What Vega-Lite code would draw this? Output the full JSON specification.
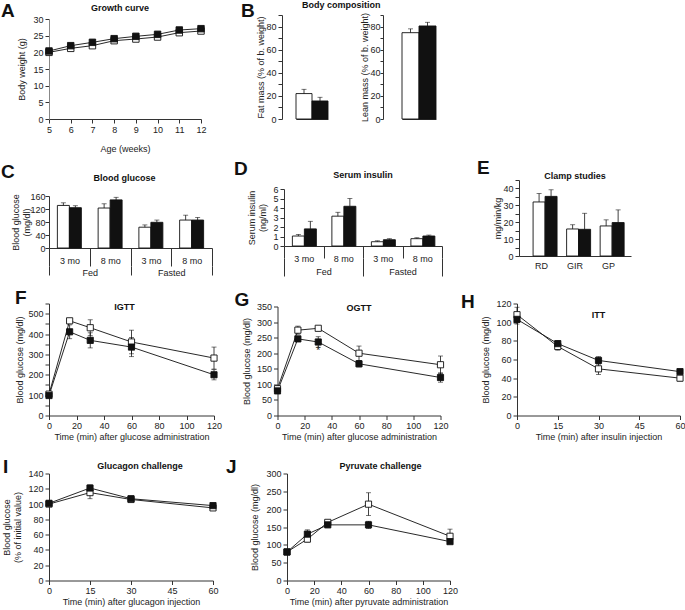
{
"$schema":"https://vega.github.io/schema/vega-lite/v6.json",
"padding":{"left":0,"top":1,"right":1,"bottom":0},
"config":{"font":"Liberation Sans","view":{"stroke":null},
 "axis":{"grid":false,"labelOverlap":false,"labelFlush":false,"labelFontSize":9,"titleFontSize":9,"titleFontWeight":"normal","labelColor":"#222","titleColor":"#222","domainColor":"#333","tickColor":"#333","tickSize":4,"labelPadding":2,"titlePadding":4,"labelAngle":0},
 "title":{"fontSize":9,"fontWeight":"bold","color":"#111","frame":"group","offset":4}},
"datasets":{
"growth":[{"age":5,"g":"W","w":20.0},{"age":5,"g":"K","w":20.4},{"age":6,"g":"W","w":21.2},{"age":6,"g":"K","w":22.0},{"age":7,"g":"W","w":22.0},{"age":7,"g":"K","w":23.0},{"age":8,"g":"W","w":23.5},{"age":8,"g":"K","w":24.1},{"age":9,"g":"W","w":24.0},{"age":9,"g":"K","w":24.8},{"age":10,"g":"W","w":24.6},{"age":10,"g":"K","w":25.4},{"age":11,"g":"W","w":25.9},{"age":11,"g":"K","w":26.7},{"age":12,"g":"W","w":26.4},{"age":12,"g":"K","w":27.1}],
"fat":[{"g":"W","v":22,"hi":25.7},{"g":"K","v":15.6,"hi":18.8}],
"lean":[{"g":"W","v":74.7,"hi":78},{"g":"K","v":80.5,"hi":83.7}],
"glu":[{"grp":"Fed|3 mo","g":"W","v":131,"hi":139},{"grp":"Fed|3 mo","g":"K","v":124,"hi":130},{"grp":"Fed|8 mo","g":"W","v":123,"hi":136},{"grp":"Fed|8 mo","g":"K","v":148,"hi":156},{"grp":"Fasted|3 mo","g":"W","v":64,"hi":71},{"grp":"Fasted|3 mo","g":"K","v":79,"hi":86},{"grp":"Fasted|8 mo","g":"W","v":86,"hi":101},{"grp":"Fasted|8 mo","g":"K","v":86,"hi":94}],
"ins":[{"grp":"Fed|3 mo","g":"W","v":1.05,"hi":1.22},{"grp":"Fed|3 mo","g":"K","v":1.8,"hi":2.6},{"grp":"Fed|8 mo","g":"W","v":3.14,"hi":3.55},{"grp":"Fed|8 mo","g":"K","v":4.18,"hi":5.0},{"grp":"Fasted|3 mo","g":"W","v":0.45,"hi":0.55},{"grp":"Fasted|3 mo","g":"K","v":0.66,"hi":0.77},{"grp":"Fasted|8 mo","g":"W","v":0.77,"hi":0.87},{"grp":"Fasted|8 mo","g":"K","v":1.05,"hi":1.15}],
"cond":[{"c":"Fed"},{"c":"Fasted"}],
"clamp":[{"m":"RD","g":"W","v":32,"hi":37},{"m":"RD","g":"K","v":35.3,"hi":39.2},{"m":"GIR","g":"W","v":16,"hi":18.5},{"m":"GIR","g":"K","v":15.8,"hi":25.3},{"m":"GP","g":"W","v":17.8,"hi":21.4},{"m":"GP","g":"K","v":19.8,"hi":27.3}],
"igtt":[{"t":0,"g":"W","v":105,"lo":97,"hi":113},{"t":15,"g":"W","v":465,"lo":455,"hi":475},{"t":30,"g":"W","v":431,"lo":392,"hi":470},{"t":60,"g":"W","v":361,"lo":303,"hi":419},{"t":120,"g":"W","v":282,"lo":228,"hi":336},{"t":0,"g":"K","v":98,"lo":90,"hi":106},{"t":15,"g":"K","v":411,"lo":377,"hi":445},{"t":30,"g":"K","v":369,"lo":332,"hi":406},{"t":60,"g":"K","v":336,"lo":289,"hi":383},{"t":120,"g":"K","v":200,"lo":175,"hi":225}],
"ogtt":[{"t":0,"g":"W","v":86,"lo":78,"hi":94},{"t":15,"g":"W","v":274,"lo":261,"hi":287},{"t":30,"g":"W","v":280,"lo":275,"hi":285},{"t":60,"g":"W","v":200,"lo":177,"hi":223},{"t":120,"g":"W","v":163,"lo":135,"hi":191},{"t":0,"g":"K","v":79,"lo":71,"hi":87},{"t":15,"g":"K","v":246,"lo":238,"hi":254},{"t":30,"g":"K","v":236,"lo":219,"hi":253},{"t":60,"g":"K","v":166,"lo":156,"hi":176},{"t":120,"g":"K","v":122,"lo":107,"hi":137}],
"star":[{"t":30,"v":207,"s":"*"}],
"itt":[{"t":0,"g":"W","v":108,"lo":100,"hi":116},{"t":15,"g":"W","v":74,"lo":70,"hi":78},{"t":30,"g":"W","v":50,"lo":44,"hi":56},{"t":60,"g":"W","v":40,"lo":37,"hi":43},{"t":0,"g":"K","v":103,"lo":98,"hi":108},{"t":15,"g":"K","v":77,"lo":74,"hi":80},{"t":30,"g":"K","v":59,"lo":55,"hi":63},{"t":60,"g":"K","v":47,"lo":45,"hi":49}],
"glucagon":[{"t":0,"g":"W","v":100,"lo":97,"hi":103},{"t":15,"g":"W","v":115,"lo":107,"hi":123},{"t":30,"g":"W","v":106,"lo":103,"hi":109},{"t":60,"g":"W","v":95,"lo":92,"hi":98},{"t":0,"g":"K","v":101,"lo":98,"hi":104},{"t":15,"g":"K","v":121,"lo":117,"hi":125},{"t":30,"g":"K","v":107,"lo":104,"hi":110},{"t":60,"g":"K","v":98,"lo":96,"hi":100}],
"pyr":[{"t":0,"g":"W","v":80,"lo":75,"hi":85},{"t":15,"g":"W","v":116,"lo":108,"hi":124},{"t":30,"g":"W","v":163,"lo":158,"hi":168},{"t":60,"g":"W","v":214,"lo":182,"hi":246},{"t":120,"g":"W","v":124,"lo":104,"hi":144},{"t":0,"g":"K","v":80,"lo":75,"hi":85},{"t":15,"g":"K","v":130,"lo":118,"hi":142},{"t":30,"g":"K","v":156,"lo":151,"hi":161},{"t":60,"g":"K","v":156,"lo":146,"hi":166},{"t":120,"g":"K","v":109,"lo":104,"hi":114}]
},
"columns":1,"align":"none","spacing":6,
"concat":[
{"columns":2,"align":"none","spacing":33,"concat":[
 {"title":{"text":"A","anchor":"start","frame":"bounds","fontSize":19,"offset":-16.5,"dx":-17},
  "vconcat":[{"width":152,"height":104,"title":{"text":"Growth curve","offset":2,"dx":-5},"data":{"name":"growth"},
   "encoding":{"x":{"field":"age","type":"quantitative","scale":{"domain":[5,12],"nice":false},"axis":{"values":[5,6,7,8,9,10,11,12],"labelOverlap":false,"labelFlush":false,"title":"Age (weeks)","titlePadding":10}},
     "y":{"field":"w","type":"quantitative","scale":{"domain":[0,30],"nice":false,"rangeMax":4},"axis":{"values":[0,5,10,15,20,25,30],"labelOverlap":false,"title":"Body weight (g)","titlePadding":6,"domainColor":"#888"}}},
   "layer":[
    {"mark":{"type":"line","color":"#111","strokeWidth":0.9},"encoding":{"detail":{"field":"g"}}},
    {"mark":{"type":"point","shape":"square","filled":true,"size":42,"stroke":"#111","strokeWidth":0.9,"opacity":1},"encoding":{"fill":{"field":"g","type":"nominal","scale":{"domain":["W","K"],"range":["#ffffff","#111111"]},"legend":null}}}
   ]}]},
 {"title":{"text":"B","anchor":"start","frame":"bounds","fontSize":19,"offset":-19.5,"dx":-16},
  "vconcat":[{"title":{"text":"Body composition","offset":1,"dx":20},"spacing":28,"hconcat":[
   {"width":50,"height":104,"data":{"name":"fat"},
    "encoding":{"x":{"field":"g","type":"nominal","sort":["W","K"],"scale":{"domain":["W","K"],"range":[14,46],"paddingInner":0,"paddingOuter":0},"axis":{"labels":false,"ticks":false,"title":null}},
     "y":{"field":"v","type":"quantitative","scale":{"domain":[0,90],"nice":false},"axis":{"values":[0,10,20,30,40,50,60,70,80,90],"labelOverlap":false,"labelExpr":"datum.value % 20 == 0 ? datum.label : ''","title":"Fat mass (% of b. weight)","titlePadding":0}}},
    "layer":[
     {"mark":{"type":"bar","stroke":"#111","strokeWidth":0.9},"encoding":{"fill":{"field":"g","type":"nominal","scale":{"domain":["W","K"],"range":["#ffffff","#111111"]},"legend":null}}},
     {"mark":{"type":"rule","color":"#111","strokeWidth":0.8},"encoding":{"y2":{"field":"hi"}}},
     {"mark":{"type":"tick","orient":"horizontal","size":5,"thickness":0.8,"color":"#111"},"encoding":{"y":{"field":"hi","type":"quantitative","scale":{"domain":[0,90],"nice":false},"axis":{"values":[0,10,20,30,40,50,60,70,80,90],"labelOverlap":false,"labelExpr":"datum.value % 20 == 0 ? datum.label : ''","title":"Fat mass (% of b. weight)","titlePadding":0}}}}
    ]},
   {"width":58,"height":104,"data":{"name":"lean"},
    "encoding":{"x":{"field":"g","type":"nominal","sort":["W","K"],"scale":{"domain":["W","K"],"range":[19,53],"paddingInner":0,"paddingOuter":0},"axis":{"labels":false,"ticks":false,"title":null}},
     "y":{"field":"v","type":"quantitative","scale":{"domain":[0,90],"nice":false},"axis":{"values":[0,10,20,30,40,50,60,70,80,90],"labelOverlap":false,"labelExpr":"datum.value % 20 == 0 ? datum.label : ''","title":"Lean mass (% of b. weight)","titlePadding":0,"labelPadding":0,"tickSize":3}}},
    "layer":[
     {"mark":{"type":"bar","stroke":"#111","strokeWidth":0.9},"encoding":{"fill":{"field":"g","type":"nominal","scale":{"domain":["W","K"],"range":["#ffffff","#111111"]},"legend":null}}},
     {"mark":{"type":"rule","color":"#111","strokeWidth":0.8},"encoding":{"y2":{"field":"hi"}}},
     {"mark":{"type":"tick","orient":"horizontal","size":5,"thickness":0.8,"color":"#111"},"encoding":{"y":{"field":"hi","type":"quantitative","scale":{"domain":[0,90],"nice":false},"axis":{"values":[0,10,20,30,40,50,60,70,80,90],"labelOverlap":false,"labelExpr":"datum.value % 20 == 0 ? datum.label : ''","title":"Lean mass (% of b. weight)","titlePadding":0,"labelPadding":0,"tickSize":3}}}}
    ]}
  ]}]}
]},
{"columns":1,"align":"none","spacing":10.5,"concat":[
{"columns":2,"align":"none","spacing":20,"concat":[
 {"title":{"text":"C","anchor":"start","frame":"bounds","fontSize":19,"offset":-8.5,"dx":-11},
  "vconcat":[{"width":163,"height":68,"title":{"text":"Blood glucose","offset":-2.5,"dx":-6},
   "layer":[
    {"data":{"name":"glu"},
     "encoding":{"x":{"field":"grp","type":"nominal","sort":["Fed|3 mo","Fed|8 mo","Fasted|3 mo","Fasted|8 mo"],"scale":{"paddingInner":0,"paddingOuter":0},"axis":{"orient":"bottom","title":null,"labelExpr":"split(datum.label,'|')[1]","tickBand":"extent","tickSize":18,"labelPadding":-9.5}},
      "xOffset":{"field":"g","type":"nominal","sort":["W","K"],"scale":{"paddingInner":0,"paddingOuter":0.7}},
      "y":{"field":"v","type":"quantitative","scale":{"domain":[0,160],"nice":false,"rangeMax":16},"axis":{"values":[0,40,80,120,160],"labelOverlap":false,"title":["Blood glucose","(mg/dl)"],"titlePadding":-2,"labelPadding":0}}},
     "layer":[
      {"mark":{"type":"bar","stroke":"#111","strokeWidth":0.9},"encoding":{"fill":{"field":"g","type":"nominal","scale":{"domain":["W","K"],"range":["#ffffff","#111111"]},"legend":null}}},
      {"mark":{"type":"rule","color":"#111","strokeWidth":0.8},"encoding":{"y2":{"field":"hi"}}},
      {"mark":{"type":"tick","orient":"horizontal","size":5,"thickness":0.8,"color":"#111"},"encoding":{"y":{"field":"hi","type":"quantitative","scale":{"domain":[0,160],"nice":false,"rangeMax":16},"axis":{"values":[0,40,80,120,160],"labelOverlap":false,"title":["Blood glucose","(mg/dl)"],"titlePadding":-2,"labelPadding":0}}}}
     ]},
    {"data":{"name":"cond"},"mark":{"type":"bar","opacity":0},
     "encoding":{"x":{"field":"c","type":"nominal","sort":["Fed","Fasted"],"scale":{"paddingInner":0,"paddingOuter":0},"axis":{"orient":"bottom","offset":18,"title":null,"domain":false,"tickBand":"extent","tickSize":9,"labelPadding":-6.5}},
      "y":{"datum":0,"type":"quantitative","scale":{"domain":[0,160],"nice":false,"rangeMax":16},"axis":{"values":[0,40,80,120,160],"labelOverlap":false,"title":["Blood glucose","(mg/dl)"],"titlePadding":-2,"labelPadding":0}}}}
   ],
   "resolve":{"scale":{"x":"independent"},"axis":{"x":"independent"}}}]},
 {"columns":2,"align":"none","spacing":33,"concat":[
 {"title":{"text":"D","anchor":"start","frame":"bounds","fontSize":19,"offset":-8.5,"dx":-14},
  "vconcat":[{"width":158,"height":66,"title":{"text":"Serum insulin","offset":0.5},
   "layer":[
    {"data":{"name":"ins"},
     "encoding":{"x":{"field":"grp","type":"nominal","sort":["Fed|3 mo","Fed|8 mo","Fasted|3 mo","Fasted|8 mo"],"scale":{"paddingInner":0,"paddingOuter":0},"axis":{"orient":"bottom","title":null,"labelExpr":"split(datum.label,'|')[1]","tickBand":"extent","tickSize":12,"labelPadding":-3.5}},
      "xOffset":{"field":"g","type":"nominal","sort":["W","K"],"scale":{"paddingInner":0,"paddingOuter":0.7}},
      "y":{"field":"v","type":"quantitative","scale":{"domain":[0,6],"nice":false,"rangeMax":9},"axis":{"values":[0,1,2,3,4,5,6],"labelOverlap":false,"title":["Serum insulin","(ng/ml)"],"titlePadding":5}}},
     "layer":[
      {"mark":{"type":"bar","stroke":"#111","strokeWidth":0.9},"encoding":{"fill":{"field":"g","type":"nominal","scale":{"domain":["W","K"],"range":["#ffffff","#111111"]},"legend":null}}},
      {"mark":{"type":"rule","color":"#111","strokeWidth":0.8},"encoding":{"y2":{"field":"hi"}}},
      {"mark":{"type":"tick","orient":"horizontal","size":5,"thickness":0.8,"color":"#111"},"encoding":{"y":{"field":"hi","type":"quantitative","scale":{"domain":[0,6],"nice":false,"rangeMax":9},"axis":{"values":[0,1,2,3,4,5,6],"labelOverlap":false,"title":["Serum insulin","(ng/ml)"],"titlePadding":5}}}}
     ]},
    {"data":{"name":"cond"},"mark":{"type":"bar","opacity":0},
     "encoding":{"x":{"field":"c","type":"nominal","sort":["Fed","Fasted"],"scale":{"paddingInner":0,"paddingOuter":0},"axis":{"orient":"bottom","offset":12,"title":null,"domain":false,"tickBand":"extent","tickSize":18,"labelPadding":-8.5}},
      "y":{"datum":0,"type":"quantitative","scale":{"domain":[0,6],"nice":false,"rangeMax":9},"axis":{"values":[0,1,2,3,4,5,6],"labelOverlap":false,"title":["Serum insulin","(ng/ml)"],"titlePadding":5}}}}
   ],
   "resolve":{"scale":{"x":"independent"},"axis":{"x":"independent"}}}]},
 {"title":{"text":"E","anchor":"start","frame":"bounds","fontSize":19,"offset":-6.5,"dx":-17},
  "vconcat":[{"width":112,"height":76,"title":{"text":"Clamp studies","offset":-4.5},"data":{"name":"clamp"},
   "encoding":{"x":{"field":"m","type":"nominal","sort":["RD","GIR","GP"],"scale":{"paddingInner":0,"paddingOuter":0.17},"axis":{"title":null,"ticks":false,"labelPadding":5}},
     "xOffset":{"field":"g","type":"nominal","sort":["W","K"],"scale":{"paddingInner":0,"paddingOuter":0.4}},
     "y":{"field":"v","type":"quantitative","scale":{"domain":[0,45],"nice":false},"axis":{"values":[0,5,10,15,20,25,30,35,40,45],"labelOverlap":false,"labelExpr":"datum.value % 10 == 0 ? datum.label : ''","title":"mg/min/kg","titlePadding":0}}},
   "layer":[
    {"mark":{"type":"bar","stroke":"#111","strokeWidth":0.9},"encoding":{"fill":{"field":"g","type":"nominal","scale":{"domain":["W","K"],"range":["#ffffff","#111111"]},"legend":null}}},
    {"mark":{"type":"rule","color":"#111","strokeWidth":0.8},"encoding":{"y2":{"field":"hi"}}},
    {"mark":{"type":"tick","orient":"horizontal","size":5,"thickness":0.8,"color":"#111"},"encoding":{"y":{"field":"hi","type":"quantitative","scale":{"domain":[0,45],"nice":false},"axis":{"values":[0,5,10,15,20,25,30,35,40,45],"labelOverlap":false,"labelExpr":"datum.value % 10 == 0 ? datum.label : ''","title":"mg/min/kg","titlePadding":0}}}}
   ]}]}
 ]}
]},
{"columns":1,"align":"none","spacing":16,"concat":[
{"columns":3,"align":"none","spacing":11.5,"concat":[
 {"title":{"text":"F","anchor":"start","frame":"bounds","fontSize":19,"offset":-8.5,"dx":-1},
  "vconcat":[{"width":165,"height":112,"title":{"text":"IGTT","offset":-12,"dx":-7},"data":{"name":"igtt"},
   "encoding":{"x":{"field":"t","type":"quantitative","scale":{"domain":[0,120],"nice":false},"axis":{"values":[0,20,40,60,80,100,120],"labelOverlap":false,"labelFlush":false,"title":"Time (min) after glucose administration","titlePadding":2}},
     "y":{"field":"v","type":"quantitative","scale":{"domain":[0,550],"nice":false},"axis":{"values":[0,50,100,150,200,250,300,350,400,450,500,550],"labelOverlap":false,"labelExpr":"datum.value % 100 == 0 ? datum.label : ''","title":"Blood glucose (mg/dl)","titlePadding":3}}},
   "layer":[
    {"mark":{"type":"rule","color":"#111","strokeWidth":0.8},"encoding":{"y":{"field":"lo","type":"quantitative","scale":{"domain":[0,550],"nice":false},"axis":{"values":[0,50,100,150,200,250,300,350,400,450,500,550],"labelOverlap":false,"labelExpr":"datum.value % 100 == 0 ? datum.label : ''","title":"Blood glucose (mg/dl)","titlePadding":3}},"y2":{"field":"hi"}}},
    {"mark":{"type":"tick","orient":"horizontal","size":5,"thickness":0.8,"color":"#111"},"encoding":{"y":{"field":"hi","type":"quantitative","scale":{"domain":[0,550],"nice":false},"axis":{"values":[0,50,100,150,200,250,300,350,400,450,500,550],"labelOverlap":false,"labelExpr":"datum.value % 100 == 0 ? datum.label : ''","title":"Blood glucose (mg/dl)","titlePadding":3}}}},
    {"mark":{"type":"tick","orient":"horizontal","size":5,"thickness":0.8,"color":"#111"},"encoding":{"y":{"field":"lo","type":"quantitative","scale":{"domain":[0,550],"nice":false},"axis":{"values":[0,50,100,150,200,250,300,350,400,450,500,550],"labelOverlap":false,"labelExpr":"datum.value % 100 == 0 ? datum.label : ''","title":"Blood glucose (mg/dl)","titlePadding":3}}}},
    {"mark":{"type":"line","color":"#111","strokeWidth":0.9},"encoding":{"detail":{"field":"g"}}},
    {"mark":{"type":"point","shape":"square","filled":true,"size":38,"stroke":"#111","strokeWidth":0.9,"opacity":1},"encoding":{"fill":{"field":"g","type":"nominal","scale":{"domain":["W","K"],"range":["#ffffff","#111111"]},"legend":null}}}
   ]}]},
 {"title":{"text":"G","anchor":"start","frame":"bounds","fontSize":19,"offset":-7.5,"dx":-8},
  "vconcat":[{"width":163,"height":112,"title":{"text":"OGTT","offset":-10},
   "encoding":{"x":{"field":"t","type":"quantitative","scale":{"domain":[0,120],"nice":false},"axis":{"values":[0,20,40,60,80,100,120],"labelOverlap":false,"labelFlush":false,"title":"Time (min) after glucose administration","titlePadding":2}},
     "y":{"field":"v","type":"quantitative","scale":{"domain":[0,350],"nice":false,"rangeMax":3},"axis":{"values":[0,50,100,150,200,250,300,350],"labelOverlap":false,"title":"Blood glucose (mg/dl)","titlePadding":5}}},
   "layer":[
    {"data":{"name":"ogtt"},"mark":{"type":"rule","color":"#111","strokeWidth":0.8},"encoding":{"y":{"field":"lo","type":"quantitative","scale":{"domain":[0,350],"nice":false,"rangeMax":3},"axis":{"values":[0,50,100,150,200,250,300,350],"labelOverlap":false,"title":"Blood glucose (mg/dl)","titlePadding":5}},"y2":{"field":"hi"}}},
    {"data":{"name":"ogtt"},"mark":{"type":"tick","orient":"horizontal","size":5,"thickness":0.8,"color":"#111"},"encoding":{"y":{"field":"hi","type":"quantitative","scale":{"domain":[0,350],"nice":false,"rangeMax":3},"axis":{"values":[0,50,100,150,200,250,300,350],"labelOverlap":false,"title":"Blood glucose (mg/dl)","titlePadding":5}}}},
    {"data":{"name":"ogtt"},"mark":{"type":"tick","orient":"horizontal","size":5,"thickness":0.8,"color":"#111"},"encoding":{"y":{"field":"lo","type":"quantitative","scale":{"domain":[0,350],"nice":false,"rangeMax":3},"axis":{"values":[0,50,100,150,200,250,300,350],"labelOverlap":false,"title":"Blood glucose (mg/dl)","titlePadding":5}}}},
    {"data":{"name":"ogtt"},"mark":{"type":"line","color":"#111","strokeWidth":0.9},"encoding":{"detail":{"field":"g"}}},
    {"data":{"name":"ogtt"},"mark":{"type":"point","shape":"square","filled":true,"size":38,"stroke":"#111","strokeWidth":0.9,"opacity":1},"encoding":{"fill":{"field":"g","type":"nominal","scale":{"domain":["W","K"],"range":["#ffffff","#111111"]},"legend":null}}},
    {"data":{"name":"star"},"mark":{"type":"text","fontSize":10,"color":"#111","baseline":"middle"},"encoding":{"text":{"field":"s"}}}
   ]}]},
 {"title":{"text":"H","anchor":"start","frame":"bounds","fontSize":19,"offset":-12.5,"dx":-21},
  "vconcat":[{"width":163,"height":112,"title":{"text":"ITT","offset":-20},"data":{"name":"itt"},
   "encoding":{"x":{"field":"t","type":"quantitative","scale":{"domain":[0,60],"nice":false},"axis":{"values":[0,15,30,45,60],"labelOverlap":false,"labelFlush":false,"title":"Time (min) after insulin injection","titlePadding":2}},
     "y":{"field":"v","type":"quantitative","scale":{"domain":[0,120],"nice":false},"axis":{"values":[0,20,40,60,80,100,120],"labelOverlap":false,"title":"Blood glucose (mg/dl)","titlePadding":5}}},
   "layer":[
    {"mark":{"type":"rule","color":"#111","strokeWidth":0.8},"encoding":{"y":{"field":"lo","type":"quantitative","scale":{"domain":[0,120],"nice":false},"axis":{"values":[0,20,40,60,80,100,120],"labelOverlap":false,"title":"Blood glucose (mg/dl)","titlePadding":5}},"y2":{"field":"hi"}}},
    {"mark":{"type":"tick","orient":"horizontal","size":5,"thickness":0.8,"color":"#111"},"encoding":{"y":{"field":"hi","type":"quantitative","scale":{"domain":[0,120],"nice":false},"axis":{"values":[0,20,40,60,80,100,120],"labelOverlap":false,"title":"Blood glucose (mg/dl)","titlePadding":5}}}},
    {"mark":{"type":"tick","orient":"horizontal","size":5,"thickness":0.8,"color":"#111"},"encoding":{"y":{"field":"lo","type":"quantitative","scale":{"domain":[0,120],"nice":false},"axis":{"values":[0,20,40,60,80,100,120],"labelOverlap":false,"title":"Blood glucose (mg/dl)","titlePadding":5}}}},
    {"mark":{"type":"line","color":"#111","strokeWidth":0.9},"encoding":{"detail":{"field":"g"}}},
    {"mark":{"type":"point","shape":"square","filled":true,"size":38,"stroke":"#111","strokeWidth":0.9,"opacity":1},"encoding":{"fill":{"field":"g","type":"nominal","scale":{"domain":["W","K"],"range":["#ffffff","#111111"]},"legend":null}}}
   ]}]}
]},
{"columns":2,"align":"none","spacing":6,"concat":[
 {"title":{"text":"I","anchor":"start","frame":"bounds","fontSize":19,"offset":-15.5,"dx":0},
  "vconcat":[{"width":164,"height":107,"title":{"text":"Glucagon challenge","offset":-1,"dx":9},"data":{"name":"glucagon"},
   "encoding":{"x":{"field":"t","type":"quantitative","scale":{"domain":[0,60],"nice":false},"axis":{"values":[0,15,30,45,60],"labelOverlap":false,"labelFlush":false,"title":"Time (min) after glucagon injection","titlePadding":2}},
     "y":{"field":"v","type":"quantitative","scale":{"domain":[0,140],"nice":false},"axis":{"values":[0,20,40,60,80,100,120,140],"labelOverlap":false,"title":["Blood glucose","(% of initial value)"],"titlePadding":5}}},
   "layer":[
    {"mark":{"type":"rule","color":"#111","strokeWidth":0.8},"encoding":{"y":{"field":"lo","type":"quantitative","scale":{"domain":[0,140],"nice":false},"axis":{"values":[0,20,40,60,80,100,120,140],"labelOverlap":false,"title":["Blood glucose","(% of initial value)"],"titlePadding":5}},"y2":{"field":"hi"}}},
    {"mark":{"type":"tick","orient":"horizontal","size":5,"thickness":0.8,"color":"#111"},"encoding":{"y":{"field":"hi","type":"quantitative","scale":{"domain":[0,140],"nice":false},"axis":{"values":[0,20,40,60,80,100,120,140],"labelOverlap":false,"title":["Blood glucose","(% of initial value)"],"titlePadding":5}}}},
    {"mark":{"type":"tick","orient":"horizontal","size":5,"thickness":0.8,"color":"#111"},"encoding":{"y":{"field":"lo","type":"quantitative","scale":{"domain":[0,140],"nice":false},"axis":{"values":[0,20,40,60,80,100,120,140],"labelOverlap":false,"title":["Blood glucose","(% of initial value)"],"titlePadding":5}}}},
    {"mark":{"type":"line","color":"#111","strokeWidth":0.9},"encoding":{"detail":{"field":"g"}}},
    {"mark":{"type":"point","shape":"square","filled":true,"size":38,"stroke":"#111","strokeWidth":0.9,"opacity":1},"encoding":{"fill":{"field":"g","type":"nominal","scale":{"domain":["W","K"],"range":["#ffffff","#111111"]},"legend":null}}}
   ]}]},
 {"title":{"text":"J","anchor":"start","frame":"bounds","fontSize":19,"offset":-15.5,"dx":-25},
  "vconcat":[{"width":163,"height":107,"title":{"text":"Pyruvate challenge","offset":-1,"dx":12},"data":{"name":"pyr"},
   "encoding":{"x":{"field":"t","type":"quantitative","scale":{"domain":[0,120],"nice":false},"axis":{"values":[0,20,40,60,80,100,120],"labelOverlap":false,"labelFlush":false,"title":"Time (min) after pyruvate administration","titlePadding":2}},
     "y":{"field":"v","type":"quantitative","scale":{"domain":[0,300],"nice":false},"axis":{"values":[0,50,100,150,200,250,300],"labelOverlap":false,"title":"Blood glucose (mg/dl)","titlePadding":6}}},
   "layer":[
    {"mark":{"type":"rule","color":"#111","strokeWidth":0.8},"encoding":{"y":{"field":"lo","type":"quantitative","scale":{"domain":[0,300],"nice":false},"axis":{"values":[0,50,100,150,200,250,300],"labelOverlap":false,"title":"Blood glucose (mg/dl)","titlePadding":6}},"y2":{"field":"hi"}}},
    {"mark":{"type":"tick","orient":"horizontal","size":5,"thickness":0.8,"color":"#111"},"encoding":{"y":{"field":"hi","type":"quantitative","scale":{"domain":[0,300],"nice":false},"axis":{"values":[0,50,100,150,200,250,300],"labelOverlap":false,"title":"Blood glucose (mg/dl)","titlePadding":6}}}},
    {"mark":{"type":"tick","orient":"horizontal","size":5,"thickness":0.8,"color":"#111"},"encoding":{"y":{"field":"lo","type":"quantitative","scale":{"domain":[0,300],"nice":false},"axis":{"values":[0,50,100,150,200,250,300],"labelOverlap":false,"title":"Blood glucose (mg/dl)","titlePadding":6}}}},
    {"mark":{"type":"line","color":"#111","strokeWidth":0.9},"encoding":{"detail":{"field":"g"}}},
    {"mark":{"type":"point","shape":"square","filled":true,"size":38,"stroke":"#111","strokeWidth":0.9,"opacity":1},"encoding":{"fill":{"field":"g","type":"nominal","scale":{"domain":["W","K"],"range":["#ffffff","#111111"]},"legend":null}}}
   ]}]}
]}
]}
]}
]
}
